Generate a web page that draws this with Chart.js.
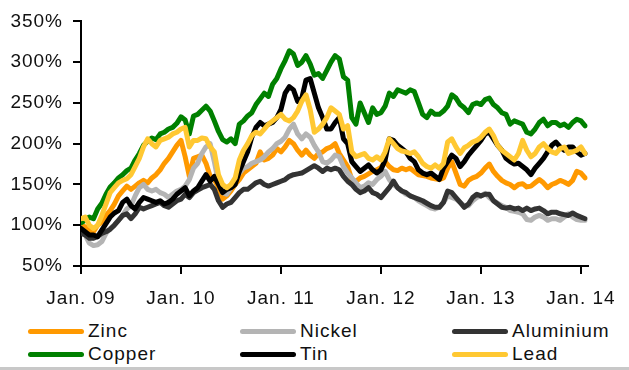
<!DOCTYPE html>
<html>
<head>
<meta charset="utf-8">
<script src="https://cdn.jsdelivr.net/npm/chart.js@4.4.0/dist/chart.umd.min.js"></script>
<style>
  body { margin: 0; background: #fff; }
  #wrap { position: relative; width: 629px; height: 370px; overflow: hidden; }
  #chart { position: absolute; left: 0; top: 0; }
  .key-line { position: absolute; width: 56px; height: 5px; border-radius: 3px; }
  .key-text { position: absolute; font: 19px "Liberation Sans", Arial, sans-serif; letter-spacing: 1px; color: #111; line-height: 22px; white-space: nowrap; }
  #rule { position: absolute; left: 0; top: 367px; width: 629px; height: 3px; background: #c8c8c8; }
</style>
</head>
<body>
<div id="wrap">
  <canvas id="chart" width="629" height="320"></canvas>
  <div id="legend"></div>
  <div id="rule"></div>
</div>
<script>
// Metal prices indexed to Jan. 2009 = 100%, two readings per month
const years = ['Jan. 09', 'Jan. 10', 'Jan. 11', 'Jan. 12', 'Jan. 13', 'Jan. 14'];
const perYear = 24;

const zinc = [100,98,94,92,100,104,112,118,126,136,
  142,148,144,148,152,155,152,158,162,168,
  176,182,190,198,204,184,160,182,184,186,
  176,160,156,146,132,136,142,150,156,164,
  168,172,176,190,180,182,186,194,190,196,
  204,200,192,186,192,186,182,188,190,194,
  196,200,188,180,172,156,154,158,160,163,
  166,168,171,178,172,168,167,170,168,170,
  166,162,161,160,158,157,156,158,170,178,
  164,150,148,155,158,160,164,170,175,166,
  160,155,152,150,146,150,151,147,148,152,
  156,152,146,150,152,155,153,150,155,166,
  164,158];

const nickel = [94,88,78,75,76,80,90,96,100,106,
  112,120,124,136,146,150,144,142,144,140,
  138,134,138,142,144,148,156,170,176,188,
  196,200,178,152,140,138,146,156,164,170,
  172,176,178,180,184,190,194,200,203,208,
  218,224,212,206,212,208,198,190,178,176,
  180,186,184,172,164,158,152,146,148,152,
  150,156,160,166,156,150,146,142,138,136,
  134,130,127,124,121,120,122,128,136,134,
  132,128,124,124,130,134,136,139,134,130,
  127,124,122,118,117,116,114,107,106,110,
  112,110,106,108,108,106,110,114,110,107,
  106,106];

const aluminium = [90,88,84,84,86,90,92,95,100,106,
  112,114,108,114,122,120,122,124,126,128,
  124,122,126,130,132,138,134,140,143,146,
  148,150,144,130,122,126,128,134,140,144,
  144,148,152,154,150,148,150,152,154,156,
  160,162,163,164,167,170,173,170,166,170,
  168,170,168,160,154,150,144,140,142,146,
  140,138,134,140,146,154,146,142,140,136,
  134,132,130,127,124,122,122,128,142,140,
  134,128,122,126,134,138,136,138,138,130,
  126,122,121,122,120,121,118,121,118,120,
  121,118,114,116,116,114,113,112,115,112,
  110,108];

const copper = [103,106,110,108,120,127,138,147,152,158,
  162,167,170,180,188,198,203,207,205,212,
  214,218,220,225,233,229,212,234,236,241,
  246,240,228,215,205,202,206,200,224,228,
  234,238,248,255,262,258,273,280,292,302,
  314,310,296,300,308,298,284,286,280,290,
  300,308,304,282,278,232,224,250,238,226,
  244,236,238,246,262,258,266,264,262,266,
  264,250,236,232,240,236,236,240,246,260,
  256,248,244,238,248,250,248,254,256,248,
  244,238,236,224,228,226,224,214,212,218,
  226,230,222,226,226,222,224,220,226,230,
  228,222];

const tin = [96,92,88,88,86,94,102,110,115,118,
  128,132,124,120,128,134,132,130,128,130,
  126,128,132,138,142,146,136,142,146,154,
  162,154,160,150,140,144,146,150,166,178,
  190,208,220,226,222,224,226,232,242,262,
  270,266,252,256,278,280,262,244,232,218,
  218,226,232,206,200,178,172,166,170,174,
  168,164,168,180,206,204,198,194,190,182,
  178,168,164,162,164,160,156,170,178,186,
  182,172,178,186,192,198,204,212,214,206,
  198,192,182,178,175,176,172,168,162,170,
  176,182,190,198,202,196,192,196,196,190,
  186,188];

const lead = [108,110,100,96,100,112,126,140,146,152,
  155,157,162,172,182,196,206,200,196,204,
  206,208,212,214,218,220,196,204,204,207,
  206,196,190,162,150,146,150,158,180,192,
  200,210,214,212,218,224,228,232,236,230,
  228,232,240,252,260,242,214,218,224,232,
  244,240,236,218,222,190,184,186,188,182,
  180,184,180,190,206,200,194,191,190,188,
  190,184,176,172,170,174,170,176,202,206,
  196,188,195,198,202,204,208,214,218,210,
  198,192,188,184,180,188,204,192,184,188,
  196,200,194,190,188,194,196,188,190,192,
  196,188];

const names = ['Zinc', 'Nickel', 'Aluminium', 'Copper', 'Tin', 'Lead'];
const values = [zinc, nickel, aluminium, copper, tin, lead];
const colors = ['#ff9900', '#b4b4b4', '#333333', '#008000', '#000000', '#ffc832'];

const FONT = { family: '"Liberation Sans", Arial, sans-serif', size: 19 };

// later series sit on top, so give them the lowest order
const datasets = names.map((name, i) => ({
  label: name,
  data: values[i].map((v, j) => ({ x: j, y: v })),
  borderColor: colors[i],
  borderWidth: 5,
  pointRadius: 0,
  tension: 0,
  borderJoinStyle: 'round',
  borderCapStyle: 'round',
  order: names.length - i
}));

// canvas text gets a little tracking like the axis labels in print
const spacing = {
  id: 'spacing',
  beforeUpdate(chart) { chart.ctx.letterSpacing = '1px'; },
  beforeDraw(chart) { chart.ctx.letterSpacing = '1px'; }
};

new Chart(document.getElementById('chart'), {
  type: 'line',
  data: { datasets: datasets },
  plugins: [spacing],
  options: {
    responsive: false,
    animation: false,
    layout: { padding: { top: 20, right: 29, left: 0, bottom: 0 } },
    plugins: { legend: { display: false }, tooltip: { enabled: false } },
    scales: {
      x: {
        type: 'linear',
        min: 0,
        max: 121.6,
        afterFit: s => { s.height = 54; },
        afterBuildTicks: s => { s.ticks = years.map((y, i) => ({ value: i * perYear })); },
        border: { display: true, color: '#000', width: 2 },
        grid: { drawOnChartArea: false, drawTicks: true, tickLength: 8, color: '#000', lineWidth: 2 },
        ticks: {
          color: '#111',
          font: FONT,
          padding: 13,
          maxRotation: 0,
          callback: v => years[Math.round(v / perYear)]
        }
      },
      y: {
        min: 50,
        max: 350,
        afterFit: s => { s.width = 81; },
        border: { display: true, color: '#000', width: 2 },
        grid: { drawOnChartArea: false, drawTicks: true, tickLength: 8, color: '#000', lineWidth: 2 },
        ticks: {
          stepSize: 50,
          color: '#111',
          font: FONT,
          padding: 10,
          callback: v => v + '%'
        }
      }
    }
  }
});

// three-column key under the plot
const cols = [28, 240, 452];
const rows = [331, 354];
const legend = document.getElementById('legend');
names.forEach((name, i) => {
  const left = cols[i % 3];
  const mid = rows[Math.floor(i / 3)];
  const line = document.createElement('div');
  line.className = 'key-line';
  line.style.left = left + 'px';
  line.style.top = (mid - 2.5) + 'px';
  line.style.background = colors[i];
  const text = document.createElement('div');
  text.className = 'key-text';
  text.style.left = (left + 60) + 'px';
  text.style.top = (mid - 11) + 'px';
  text.textContent = name;
  legend.appendChild(line);
  legend.appendChild(text);
});
</script>
</body>
</html>
